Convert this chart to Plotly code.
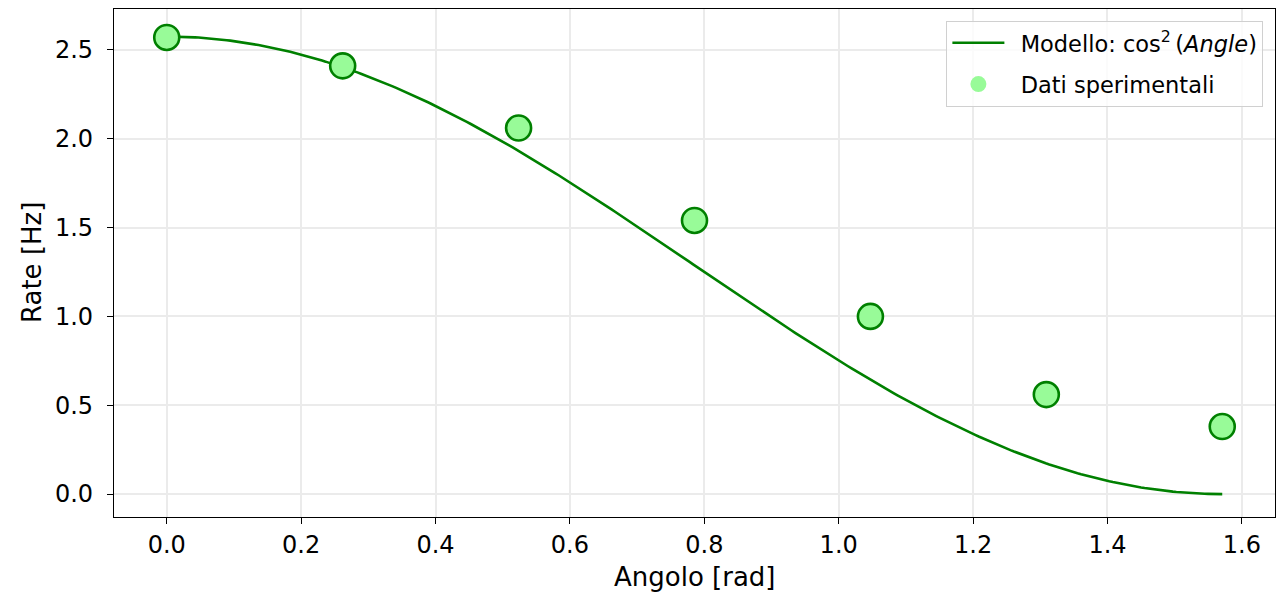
import numpy as np
import plotly.graph_objects as go

# Data
angles = [0.0, np.pi/12, np.pi/6, np.pi/4, np.pi/3, 5*np.pi/12, np.pi/2]
rates = [2.57, 2.41, 2.06, 1.54, 1.00, 0.56, 0.38]
model_amplitude = 2.575

x_ticks = [0.0, 0.2, 0.4, 0.6, 0.8, 1.0, 1.2, 1.4, 1.6]
y_ticks = [0.0, 0.5, 1.0, 1.5, 2.0, 2.5]

x_label = "Angolo [rad]"
y_label = "Rate [Hz]"

x_model = np.linspace(0, np.pi/2, 300)
y_model = model_amplitude * np.cos(x_model) ** 2

FONT = "DejaVu Sans"
SP = "\u2002"

fig = go.Figure()
fig.add_trace(go.Scatter(
    x=x_model, y=y_model, mode="lines",
    line=dict(color="#008000", width=2.6),
    name=SP + "Modello: cos<sup>2</sup>\u2009(<i>Angle</i>)",
    legendgroup="a",
))
fig.add_trace(go.Scatter(
    x=angles, y=rates, mode="markers",
    marker=dict(size=25, color="#98FB98", line=dict(color="#008000", width=2.6)),
    showlegend=False, name="Dati sperimentali",
))
fig.add_trace(go.Scatter(
    x=[None], y=[None], mode="markers",
    marker=dict(size=22, color="#98FB98"),
    name=SP + "Dati sperimentali",
    legendgroup="b",
))

axis_common = dict(
    showline=True, linecolor="black", linewidth=1.3, mirror=True,
    ticks="outside", ticklen=6, tickwidth=1.3, tickcolor="black",
    showgrid=True, gridcolor="#ebebeb", gridwidth=1.5,
    zeroline=False, automargin=False,
    tickfont=dict(family=FONT, size=24, color="black"),
)

# The page body has an 8px margin, so the figure is sized/offset to compensate.
fig.update_layout(
    width=1278, height=584,
    margin=dict(l=106, r=11, t=1, b=75),
    plot_bgcolor="white", paper_bgcolor="white",
    font=dict(family=FONT, color="black"),
    xaxis=dict(
        range=[-0.0785, 1.6493], tickvals=x_ticks,
        ticktext=[f"{v:.1f}" for v in x_ticks],
        **axis_common,
    ),
    yaxis=dict(
        range=[-0.129, 2.73], tickvals=y_ticks,
        ticktext=[f"{v:.1f}" for v in y_ticks],
        ticklabelstandoff=9,
        **axis_common,
    ),
    legend=dict(
        x=0.99, y=0.977, xanchor="right", yanchor="top",
        bgcolor="rgba(255,255,255,0.8)", bordercolor="#d0d0d0", borderwidth=1,
        font=dict(family=FONT, size=22.5, color="black"),
        itemwidth=52, tracegroupgap=9,
    ),
    annotations=[
        dict(text=x_label, xref="paper", yref="paper", x=0.5, y=0,
             xanchor="center", yanchor="middle", yshift=-60, showarrow=False,
             font=dict(family=FONT, size=26, color="black")),
        dict(text=y_label, xref="paper", yref="paper", x=0, y=0.5,
             xanchor="center", yanchor="middle", xshift=-82, textangle=-90,
             showarrow=False, font=dict(family=FONT, size=26, color="black")),
    ],
)

fig.write_html("out.html")
